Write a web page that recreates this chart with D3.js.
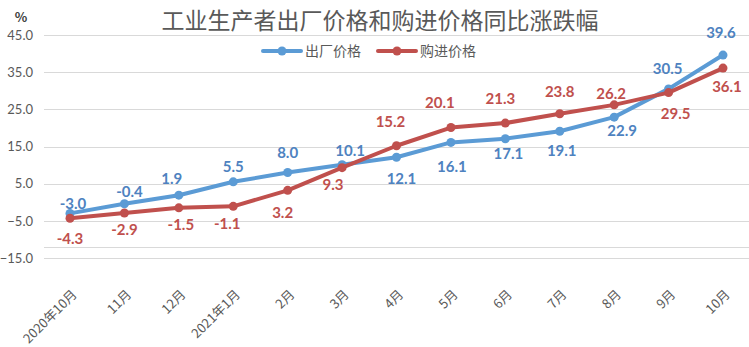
<!DOCTYPE html>
<html>
<head>
<meta charset="utf-8">
<script src="https://cdn.jsdelivr.net/npm/d3@7"></script>
<style>
  html, body { margin: 0; padding: 0; background: #fff; }
  svg { display: block; }
</style>
</head>
<body>
<svg id="chart" width="749" height="347"></svg>
<script>
// ---- data ----
const categories = ["2020年10月","11月","12月","2021年1月","2月","3月","4月","5月","6月","7月","8月","9月","10月"];
const seriesNames = ["出厂价格","购进价格"];
const outPrice = [-3.0, -0.4, 1.9, 5.5, 8.0, 10.1, 12.1, 16.1, 17.1, 19.1, 22.9, 30.5, 39.6];
const inPrice  = [-4.3, -2.9, -1.5, -1.1, 3.2, 9.3, 15.2, 20.1, 21.3, 23.8, 26.2, 29.5, 36.1];
const yTicks = [45, 35, 25, 15, 5, -5, -15];
const title = "工业生产者出厂价格和购进价格同比涨跌幅";
const unit = "%";

// ---- label placement (pixel offsets from the point) ----
const outLabelOffset = [[3,-10],[5,-12],[-7,-17],[0,-15],[0,-20],[8,-14],[5,21],[1,24],[3,15],[2,19],[8,13],[-1,-20],[-2,-22]];
const inLabelOffset  = [[0,20],[0,17],[2,17],[-6,17],[-5,22],[-9,17],[-6,-24],[-11,-25],[-5,-24],[0,-22],[-3,-11],[7,21],[4,19]];

const svg = d3.select("#chart");
const gray = "#595959";
const blue = "#5B9BD5", blueText = "#4E82C0";
const red = "#C0504D";

const x = d3.scalePoint().domain(categories).range([70, 723]);
const y = d3.scaleLinear().domain([-15, 45]).range([258, 35]);

// gridlines
svg.append("g").selectAll("line").data(yTicks).join("line")
  .attr("x1", 44).attr("x2", 749)
  .attr("y1", d => Math.round(y(d)) + 0.5).attr("y2", d => Math.round(y(d)) + 0.5)
  .attr("stroke", "#D9D9D9").attr("stroke-width", 1);

// category axis line
svg.append("line")
  .attr("x1", 44).attr("x2", 749)
  .attr("y1", Math.round(y(-12)) + 0.5).attr("y2", Math.round(y(-12)) + 0.5)
  .attr("stroke", "#D9D9D9").attr("stroke-width", 1);

// y axis labels
const yAxis = d3.axisLeft(y).tickValues(yTicks).tickFormat(d3.format(".1f")).tickSize(0).tickPadding(0);
const gy = svg.append("g").attr("transform", "translate(33,0)").call(yAxis);
gy.select(".domain").remove();
gy.selectAll("text").attr("fill", gray).style("font-family", "Lato, 'Noto Sans', sans-serif").style("font-size", "13px");

// x axis labels
const xAxis = d3.axisBottom(x).tickSize(0).tickPadding(0);
const gx = svg.append("g").call(xAxis);
gx.select(".domain").remove();
gx.selectAll(".tick text")
  .attr("fill", gray)
  .style("font-family", "'Noto Sans CJK SC', sans-serif")
  .style("font-size", "13px")
  .attr("text-anchor", "end")
  .attr("y", 0).attr("dy", "0.35em")
  .attr("transform", "translate(4,292) rotate(-45)");

// lines
const line = d3.line().x((d, i) => x(categories[i])).y(d => y(d));
function drawSeries(vals, color) {
  svg.append("path").datum(vals)
    .attr("d", line).attr("fill", "none")
    .attr("stroke", color).attr("stroke-width", 4)
    .attr("stroke-linejoin", "round").attr("stroke-linecap", "round");
  svg.append("g").selectAll("circle").data(vals).join("circle")
    .attr("cx", (d, i) => x(categories[i])).attr("cy", d => y(d))
    .attr("r", 4.5).attr("fill", color);
}
drawSeries(outPrice, blue);
drawSeries(inPrice, red);

function drawLabels(vals, offs, color) {
  svg.append("g").selectAll("text").data(vals).join("text")
    .attr("x", (d, i) => x(categories[i]) + offs[i][0])
    .attr("y", (d, i) => y(d) + offs[i][1])
    .attr("dy", "0.36em")
    .attr("text-anchor", "middle")
    .attr("fill", color)
    .style("font-family", "Lato, 'Open Sans', sans-serif")
    .style("font-weight", "bold")
    .style("font-size", "15px")
    .text(d => d.toFixed(1));
}
drawLabels(outPrice, outLabelOffset, blueText);
drawLabels(inPrice, inLabelOffset, red);

// title
svg.append("text").attr("x", 380).attr("y", 21).attr("dy", "0.35em")
  .attr("text-anchor", "middle").attr("fill", gray)
  .style("font-family", "'Noto Sans CJK SC', sans-serif")
  .style("font-size", "23px")
  .text(title);

// unit
svg.append("text").attr("x", 21).attr("y", 17).attr("dy", "0.35em")
  .attr("text-anchor", "middle").attr("fill", "#404040")
  .style("font-family", "'Noto Sans CJK SC', sans-serif")
  .style("font-size", "13px").style("font-weight", "bold")
  .text(unit);

// legend
const legendItems = [
  { name: seriesNames[0], color: blue, x0: 263 },
  { name: seriesNames[1], color: red, x0: 378 }
];
const lg = svg.append("g");
legendItems.forEach(it => {
  lg.append("line").attr("x1", it.x0).attr("x2", it.x0 + 38)
    .attr("y1", 51).attr("y2", 51)
    .attr("stroke", it.color).attr("stroke-width", 4).attr("stroke-linecap", "round");
  lg.append("circle").attr("cx", it.x0 + 19).attr("cy", 51).attr("r", 4.5).attr("fill", it.color);
  lg.append("text").attr("x", it.x0 + 42).attr("y", 51).attr("dy", "0.35em")
    .attr("fill", gray)
    .style("font-family", "'Noto Sans CJK SC', sans-serif")
    .style("font-size", "14px")
    .text(it.name);
});
</script>
</body>
</html>
